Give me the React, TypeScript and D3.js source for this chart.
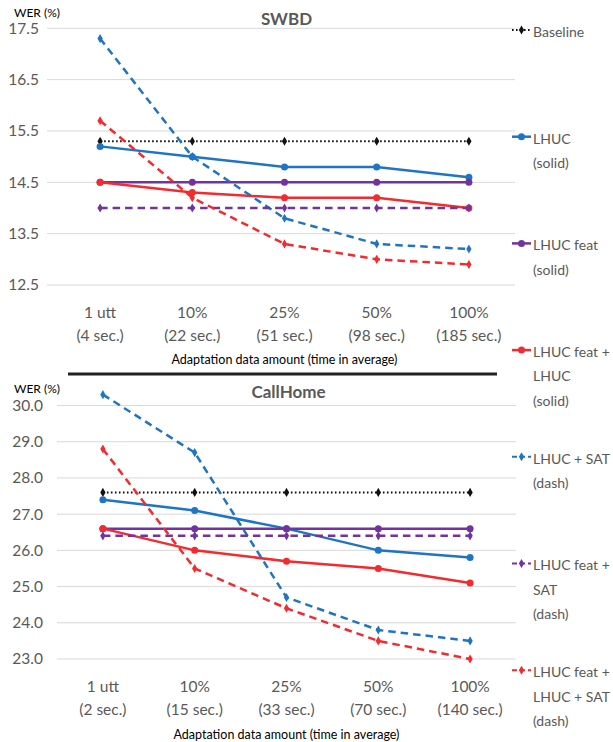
import React from 'react';
import * as d3 from 'd3';

// adaptation amounts (shared by both panels)
const steps = ['1 utt', '10%', '25%', '50%', '100%'];
const swbdTimes = ['(4 sec.)', '(22 sec.)', '(51 sec.)', '(98 sec.)', '(185 sec.)'];
const chTimes = ['(2 sec.)', '(15 sec.)', '(33 sec.)', '(70 sec.)', '(140 sec.)'];

// SWBD WER (%)
const swbdBaseline = [15.3, 15.3, 15.3, 15.3, 15.3];
const swbdLhuc = [15.2, 15.0, 14.8, 14.8, 14.6];
const swbdFeat = [14.5, 14.5, 14.5, 14.5, 14.5];
const swbdFeatLhuc = [14.5, 14.3, 14.2, 14.2, 14.0];
const swbdLhucSat = [17.3, 15.0, 13.8, 13.3, 13.2];
const swbdFeatSat = [14.0, 14.0, 14.0, 14.0, 14.0];
const swbdFeatLhucSat = [15.7, 14.2, 13.3, 13.0, 12.9];

// CallHome WER (%)
const chBaseline = [27.6, 27.6, 27.6, 27.6, 27.6];
const chLhuc = [27.4, 27.1, 26.6, 26.0, 25.8];
const chFeat = [26.6, 26.6, 26.6, 26.6, 26.6];
const chFeatLhuc = [26.6, 26.0, 25.7, 25.5, 25.1];
const chLhucSat = [30.3, 28.7, 24.7, 23.8, 23.5];
const chFeatSat = [26.4, 26.4, 26.4, 26.4, 26.4];
const chFeatLhucSat = [28.8, 25.5, 24.4, 23.5, 23.0];

const swbdTicks = [12.5, 13.5, 14.5, 15.5, 16.5, 17.5];
const chTicks = [23, 24, 25, 26, 27, 28, 29, 30];

const legendNames = [
  ['Baseline'],
  ['LHUC', '(solid)'],
  ['LHUC feat', '(solid)'],
  ['LHUC feat +', 'LHUC', '(solid)'],
  ['LHUC + SAT', '(dash)'],
  ['LHUC feat +', 'SAT', '(dash)'],
  ['LHUC feat +', 'LHUC + SAT', '(dash)'],
];

const BLUE = '#1f74c4';
const RED = '#f42a2e';
const PURPLE = '#7232a0';
const GREY = '#595959';
const FONT = 'Lato, "Open Sans", sans-serif';

// one style per series, same order as legendNames
const styles = [
  { color: '#111', dash: '1.6,2.4', width: 2, mark: 'diamond' },
  { color: BLUE, dash: null, width: 2.5, mark: 'circle' },
  { color: PURPLE, dash: null, width: 2.5, mark: 'circle' },
  { color: RED, dash: null, width: 2.5, mark: 'circle' },
  { color: BLUE, dash: '7.5,5', width: 2.5, mark: 'diamond' },
  { color: PURPLE, dash: '7.5,5', width: 2.5, mark: 'diamond' },
  { color: RED, dash: '7.5,5', width: 2.5, mark: 'diamond' },
];

const diamond = d3.symbol(d3.symbolDiamond, 24)();

function Marker({ x, y, s }) {
  if (s.mark === 'circle') return <circle cx={x} cy={y} r={3.5} fill={s.color} />;
  return <path d={diamond} transform={`translate(${x},${y})`} fill={s.color} />;
}

function Panel({ title, titleY, werY, series, times, ticks, fmt, yRange, xRange, gridLeft, tickRight, labelY, axisTitleY }) {
  const x = d3.scaleBand().domain(steps).range(xRange);
  const cx = (d) => x(d) + x.bandwidth() / 2;
  const y = d3.scaleLinear().domain([ticks[0], ticks[ticks.length - 1]]).range(yRange);
  const line = d3.line().x((d, i) => cx(steps[i])).y((d) => y(d));
  const center = (xRange[0] + xRange[1]) / 2;

  return (
    <g fontFamily={FONT}>
      {ticks.map((t) => (
        <g key={t}>
          <line x1={gridLeft} x2={xRange[1]} y1={y(t)} y2={y(t)} stroke="#d9d9d9" strokeWidth={1} />
          <text x={tickRight} y={y(t)} dy="0.35em" textAnchor="end" fontSize={15.5} fill={GREY}>{fmt(t)}</text>
        </g>
      ))}
      <text x={14} y={werY} fontSize={12} fill="#000">WER (%)</text>
      <text x={center + 2} y={titleY} textAnchor="middle" fontSize={17} fontWeight="bold" fill={GREY}>{title}</text>
      {series.map((vals, k) => (
        <g key={k}>
          <path d={line(vals)} fill="none" stroke={styles[k].color} strokeWidth={styles[k].width}
            strokeDasharray={styles[k].dash || undefined} />
          {vals.map((v, i) => <Marker key={i} x={cx(steps[i])} y={y(v)} s={styles[k]} />)}
        </g>
      ))}
      {steps.map((s, i) => (
        <g key={s} fontSize={15.5} fill={GREY} textAnchor="middle">
          <text x={cx(s)} y={labelY}>{s}</text>
          <text x={cx(s)} y={labelY + 23}>{times[i]}</text>
        </g>
      ))}
      <text x={center} y={axisTitleY} textAnchor="middle" fontSize={12.5} fill="#000">
        Adaptation data amount (time in average)
      </text>
    </g>
  );
}

function Legend() {
  return (
    <g fontFamily={FONT} fontSize={14} fill={GREY}>
      {legendNames.map((lines, k) => {
        const ly = 30 + k * 106.7;
        const s = styles[k];
        return (
          <g key={k}>
            <line x1={512} x2={531} y1={ly} y2={ly} stroke={s.color} strokeWidth={s.dash ? 2 : 2.5}
              strokeDasharray={s.dash ? (k === 0 ? '1.6,2.4' : '5,3') : undefined} />
            <Marker x={521.5} y={ly} s={s} />
            {lines.map((t, j) => (
              <text key={j} x={533} y={ly + 2 + j * 24.4} dy="0.35em">{t}</text>
            ))}
          </g>
        );
      })}
    </g>
  );
}

export default function App() {
  return (
    <svg width={613} height={742} style={{ position: 'absolute', left: 0, top: 0, background: '#fff' }}>
      <Panel
        title="SWBD" titleY={25} werY={17}
        series={[swbdBaseline, swbdLhuc, swbdFeat, swbdFeatLhuc, swbdLhucSat, swbdFeatSat, swbdFeatLhucSat]}
        times={swbdTimes} ticks={swbdTicks} fmt={d3.format('.1f')}
        yRange={[285, 28.3]} xRange={[54, 515]} gridLeft={47} tickRight={39}
        labelY={318} axisTitleY={364}
      />
      <line x1={68} x2={497} y1={374} y2={374} stroke="#222" strokeWidth={3} />
      <Panel
        title="CallHome" titleY={398} werY={393}
        series={[chBaseline, chLhuc, chFeat, chFeatLhuc, chLhucSat, chFeatSat, chFeatLhucSat]}
        times={chTimes} ticks={chTicks} fmt={d3.format('.1f')}
        yRange={[659, 405.5]} xRange={[57, 516]} gridLeft={57} tickRight={43}
        labelY={692} axisTitleY={739}
      />
      <Legend />
    </svg>
  );
}
